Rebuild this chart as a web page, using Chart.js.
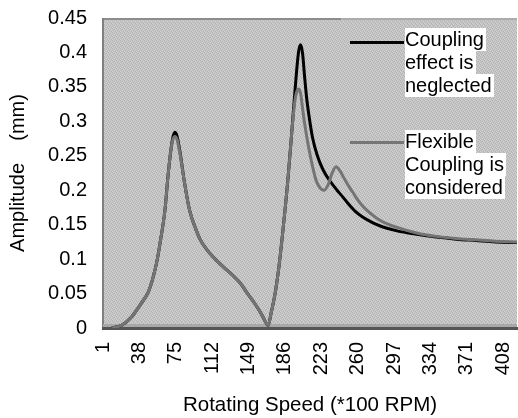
<!DOCTYPE html>
<html>
<head>
<meta charset="utf-8">
<script src="https://cdn.jsdelivr.net/npm/chart.js@4"></script>
<style>
  body { margin: 0; background: #fff; }
  #wrap { position: relative; width: 518px; height: 418px; }
  .legend-line { position: absolute; height: 3px; width: 54px; left: 350px; }
  .legend-box { position: absolute; left: 405px; font-family: "Liberation Sans", Arial, sans-serif; font-size: 20px; line-height: 23px; color: #000; }
  .legend-box div { width: fit-content; background: #fff; padding-right: 2px; }
</style>
</head>
<body>
<div id="wrap">
  <canvas id="chart" width="518" height="418"></canvas>
  <div class="legend-line" style="top:41px; background:#000;"></div>
  <div class="legend-box" style="top:28px;"><div>Coupling</div><div>effect is</div><div>neglected</div></div>
  <div class="legend-line" style="top:141px; background:#767676;"></div>
  <div class="legend-box" style="top:130px;"><div>Flexible</div><div>Coupling is</div><div>considered</div></div>
</div>
<script>
// ==========================
// Data
// ==========================

const speedTicks = [1, 38, 75, 112, 149, 186, 223, 260, 297, 334, 371, 408];

const neglectedSpeed = [10, 20, 30, 40, 47, 52, 56, 59, 64, 67, 70, 72, 74, 76, 79, 84, 89, 95, 100, 106, 113, 120, 127, 134, 140, 150, 157, 163, 169, 172, 176, 180, 184, 189, 193, 196, 198, 200, 202, 204, 206, 208, 211, 214, 219, 225, 232, 239, 245, 250, 257, 265, 275, 285, 300, 320, 340, 360, 380, 400, 422];
const neglectedAmp = [0, 0.004, 0.016, 0.036, 0.052, 0.074, 0.098, 0.123, 0.171, 0.219, 0.258, 0.276, 0.284, 0.28, 0.258, 0.21, 0.171, 0.145, 0.128, 0.115, 0.103, 0.093, 0.084, 0.075, 0.066, 0.046, 0.032, 0.018, 0.004, 0.022, 0.05, 0.09, 0.142, 0.215, 0.285, 0.34, 0.375, 0.402, 0.411, 0.398, 0.365, 0.335, 0.303, 0.277, 0.25, 0.229, 0.213, 0.2, 0.19, 0.181, 0.17, 0.161, 0.153, 0.147, 0.141, 0.136, 0.132, 0.129, 0.127, 0.125, 0.124];

const flexibleSpeed = [10, 20, 30, 40, 47, 52, 56, 59, 64, 67, 70, 72, 74, 76, 79, 84, 89, 95, 100, 106, 113, 120, 127, 134, 140, 150, 157, 163, 169, 172, 176, 180, 184, 189, 193, 196, 198, 200, 202, 204, 206, 210, 214, 218, 222, 226, 230, 234, 238, 242, 246, 250, 255, 260, 265, 270, 283, 300, 320, 340, 360, 380, 400, 422];
const flexibleAmp = [0, 0.004, 0.016, 0.036, 0.052, 0.074, 0.098, 0.123, 0.171, 0.219, 0.258, 0.273, 0.278, 0.275, 0.255, 0.21, 0.171, 0.145, 0.128, 0.115, 0.103, 0.093, 0.084, 0.075, 0.066, 0.046, 0.032, 0.018, 0.004, 0.022, 0.05, 0.09, 0.142, 0.215, 0.285, 0.328, 0.343, 0.347, 0.34, 0.318, 0.297, 0.263, 0.235, 0.213, 0.203, 0.2, 0.208, 0.225, 0.234, 0.228, 0.218, 0.208, 0.197, 0.186, 0.177, 0.17, 0.156, 0.146, 0.138, 0.133, 0.13, 0.128, 0.126, 0.125];

const toPoints = (xs, ys) => xs.map((x, i) => ({ x: x, y: ys[i] }));

// ==========================
// Plot area background
// ==========================

function makePattern(ctx) {
  const c = document.createElement("canvas");
  c.width = 4;
  c.height = 4;
  const p = c.getContext("2d");
  p.fillStyle = "#c3c3c3";
  p.fillRect(0, 0, 4, 4);
  p.fillStyle = "#b2b2b2";
  [[0, 0], [2, 1], [1, 2], [3, 3]].forEach(([x, y]) => p.fillRect(x, y, 1, 1));
  p.fillStyle = "#d2d2d2";
  [[1, 0], [3, 1], [0, 3], [2, 2]].forEach(([x, y]) => p.fillRect(x, y, 1, 1));
  return ctx.createPattern(c, "repeat");
}

const plotBackground = {
  id: "plotBackground",
  beforeDraw(chart) {
    const { ctx, chartArea: a } = chart;
    ctx.save();
    ctx.fillStyle = makePattern(ctx);
    ctx.fillRect(a.left, a.top, a.right - a.left, a.bottom - a.top);
    ctx.fillStyle = "#8c8c8c";
    ctx.fillRect(a.left, a.top, 238, 2);
    ctx.fillStyle = "#acacac";
    ctx.fillRect(a.left + 238, a.top, a.right - a.left - 238, 2);
    ctx.fillStyle = "#808080";
    ctx.fillRect(a.left - 1, a.top, 2, a.bottom - a.top);
    ctx.fillStyle = "#a8a8a8";
    ctx.fillRect(a.left, a.bottom - 4, a.right - a.left, 5);
    ctx.restore();
  },
};

// ==========================
// Chart
// ==========================

const font = { family: "'Liberation Sans', Arial, sans-serif", size: 20 };

new Chart(document.getElementById("chart"), {
  type: "line",
  data: {
    datasets: [
      {
        label: "Flexible Coupling is considered",
        data: toPoints(flexibleSpeed, flexibleAmp),
        borderColor: "#747474",
        borderWidth: 3,
        pointRadius: 0,
        cubicInterpolationMode: "monotone",
      },
      {
        label: "Coupling effect is neglected",
        data: toPoints(neglectedSpeed, neglectedAmp),
        borderColor: "#000000",
        borderWidth: 3,
        pointRadius: 0,
        cubicInterpolationMode: "monotone",
      },
    ],
  },
  options: {
    responsive: false,
    animation: false,
    devicePixelRatio: 1,
    layout: { padding: { top: 18, right: 1, left: 0, bottom: 0 } },
    plugins: {
      legend: { display: false },
      tooltip: { enabled: false },
    },
    scales: {
      x: {
        type: "linear",
        min: 1,
        max: 422,
        afterFit(scale) {
          scale.height = 90;
          scale.paddingLeft = 0;
          scale.paddingRight = 0;
        },
        afterBuildTicks(scale) {
          scale.ticks = speedTicks.map((v) => ({ value: v }));
        },
        grid: { display: false, drawTicks: false },
        border: { display: true, color: "#555555", width: 3, dash: [3, 4] },
        ticks: {
          autoSkip: false,
          minRotation: 90,
          maxRotation: 90,
          padding: 14,
          color: "#000",
          font: font,
          callback: (v) => String(v),
        },
        title: {
          display: true,
          text: "Rotating Speed (*100 RPM)",
          color: "#000",
          font: { family: font.family, size: 20.5 },
          padding: { top: 0, bottom: 0 },
        },
      },
      y: {
        min: 0,
        max: 0.45,
        afterFit(scale) {
          scale.width = 103;
          scale.paddingTop = 0;
          scale.paddingBottom = 0;
        },
        grid: { display: false, drawTicks: false },
        border: { display: false },
        ticks: {
          stepSize: 0.05,
          padding: 16,
          color: "#000",
          font: font,
          callback: (v) => String(Number(v.toFixed(2))),
        },
        title: {
          display: true,
          text: "Amplitude    (mm)",
          color: "#000",
          font: font,
          padding: { top: 6, bottom: 0 },
        },
      },
    },
  },
  plugins: [plotBackground],
});
</script>
</body>
</html>
